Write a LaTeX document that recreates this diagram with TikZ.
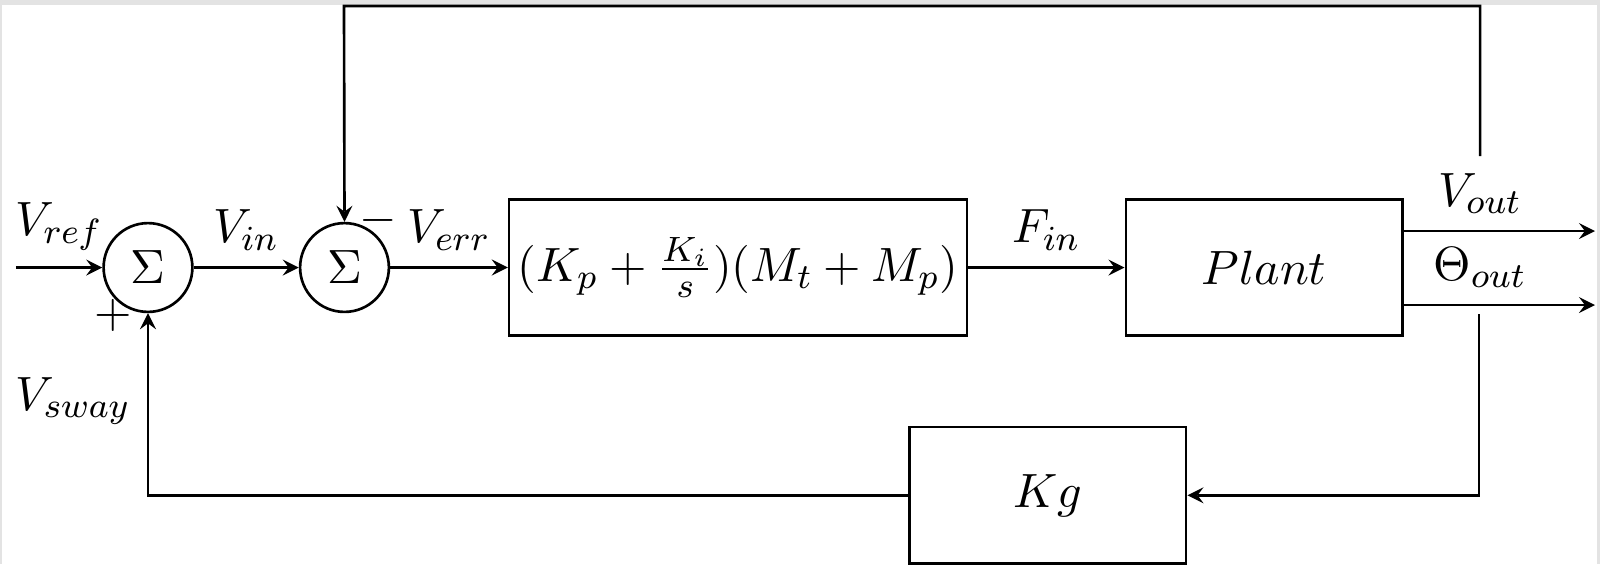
\documentclass[tikz,border=0pt]{standalone}
\usetikzlibrary{positioning,arrows}

\tikzstyle{block} = [rectangle, draw, semithick, minimum width=2.21cm, minimum height=1.09cm, inner sep=0pt]
\tikzstyle{sumnode} = [circle, draw, semithick, minimum size=0.71cm, inner sep=0pt]
\tikzstyle{arrow} = [semithick,->,>=stealth]

\begin{document}
\fontsize{10.95}{13.6}\selectfont
\begin{tikzpicture}[x=0.008cm, y=-0.008cm]
    \useasboundingbox (0,0) rectangle (1600,564);
    \fill[gray!22] (0,0) rectangle (1600,564);
    \fill[white] (2,5) rectangle (1597,564);

    \node (sum1) [sumnode] at (148,267.5) {$\Sigma$};
    \node (sum2) [sumnode, right = 0.84cm of sum1] {$\Sigma$};
    \node (ctrl) [block, minimum width=3.66cm, right = 0.94cm of sum2] {$(K_p + \frac{K_i}{s})(M_t + M_p)$};
    \node (plant) [block, right = 1.25cm of ctrl] {$Plant$};
    \node (gain) [block, below = 0.71cm of plant, xshift=-1.728cm] {$Kg$};

    \coordinate [left = 0.69cm of sum1] (in);
    \coordinate (out1) at (1595,231);
    \coordinate (out2) at (1595,305);
    \coordinate (fbtop) at (344,6);
    \coordinate (fbbot) at (1479,314);

    \node (plus) at (113,315) {$+$};
    \node (minus) at (378,220) {$-$};

    \draw [arrow] (in) -- node[above] (lref) {$V_{ref}$} (sum1);
    \draw [arrow] (sum1) -- node[above] (lin) {$V_{in}$} (sum2);
    \draw [arrow] (sum2) -- node[above] (lerr) {$V_{err}$} (ctrl);
    \draw [arrow] (ctrl) -- node[above] (lfin) {$F_{in}$} (plant);
    \draw [arrow] (plant.east |- out1) -- node[pos=0.4, above] (lout) {$V_{out}$} (out1);
    \draw [arrow] (plant.east |- out2) -- node[pos=0.4, above] (ltheta) {$\Theta_{out}$} (out2);

    % feedback paths
    \draw [arrow] (lout.north) |- (fbtop) -- (sum2.north);
    \draw [arrow] (fbbot) |- (gain.east);
    \draw [arrow] (gain.west) -| node[pos=0.76, left] (lsway) {$V_{sway}$} (sum1.south);
\end{tikzpicture}
\end{document}
